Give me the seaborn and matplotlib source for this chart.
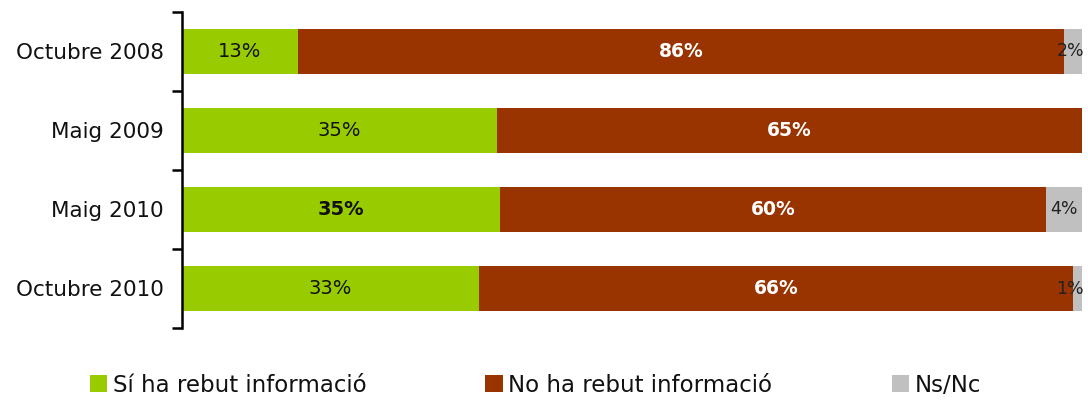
import numpy as np
import pandas as pd
import seaborn as sns
import matplotlib.pyplot as plt
from matplotlib.patches import Patch

periods = ['Octubre 2008', 'Maig 2009', 'Maig 2010', 'Octubre 2010']
si = [13, 35, 35, 33]
no = [86, 65, 60, 66]
nsnc = [2, 0, 4, 1]
series_names = ['Sí ha rebut informació', 'No ha rebut informació', 'Ns/Nc']
colors = ['#99CC00', '#993300', '#C0C0C0']

sns.set_theme(style='white')
plt.rcParams['font.family'] = ['DejaVu Sans']

df = pd.DataFrame({'period': periods, 'si': si, 'no': no, 'nsnc': nsnc})
total = df[['si', 'no', 'nsnc']].sum(axis=1)
# bars are stretched to fill 100% even when the rounded values don't add up
df['c_si'] = df['si'] / total * 100
df['c_no'] = (df['si'] + df['no']) / total * 100
df['c_all'] = 100.0

fig = plt.figure(figsize=(10.88, 4), dpi=100)
ax = fig.add_axes([182 / 1088, 1 - 328 / 400, 900 / 1088, 316 / 400])

w = 0.57
for col, c in zip(['c_all', 'c_no', 'c_si'], colors[::-1]):
    sns.barplot(data=df, x=col, y='period', color=c, width=w, ax=ax,
                saturation=1, orient='h', linewidth=0)

for i, row in df.iterrows():
    ax.text(row['c_si'] / 2, i, '%d%%' % row['si'], ha='center', va='center',
            fontsize=14, color='#111111', fontweight='bold' if i == 2 else 'normal')
    ax.text((row['c_si'] + row['c_no']) / 2, i, '%d%%' % row['no'], ha='center', va='center',
            fontsize=13.5, color='white', fontweight='bold')
    if row['nsnc'] > 0:
        xpos = min((row['c_no'] + 100) / 2, 98.7)
        ax.text(xpos, i, '%d%%' % row['nsnc'], ha='center', va='center',
                fontsize=12.5, color='#222222', clip_on=False)

ax.set_xlim(0, 100)
ax.set_ylim(3.5, -0.5)
ax.set_xlabel('')
ax.set_ylabel('')
ax.set_xticks([])
ax.set_yticks([-0.5, 0.5, 1.5, 2.5, 3.5])
ax.set_yticklabels([])
ax.set_yticks(range(len(periods)), minor=True)
ax.set_yticklabels(periods, minor=True, fontsize=15.5, color='#111111')
ax.tick_params(axis='y', which='major', direction='out', length=7, width=1.8, color='black', left=True)
ax.tick_params(axis='y', which='minor', length=0, pad=13)
for s in ['top', 'right', 'bottom']:
    ax.spines[s].set_visible(False)
ax.spines['left'].set_color('black')
ax.spines['left'].set_linewidth(1.8)

handles = [Patch(facecolor=c, edgecolor='none') for c in colors]
fig.legend(handles, series_names, loc='center', bbox_to_anchor=(0.492, 0.0375), ncol=3,
           frameon=False, fontsize=16.5, handlelength=0.75, handleheight=0.75,
           handletextpad=0.25, columnspacing=5.2, labelcolor='#111111')

fig.savefig('out.png', dpi=100)
